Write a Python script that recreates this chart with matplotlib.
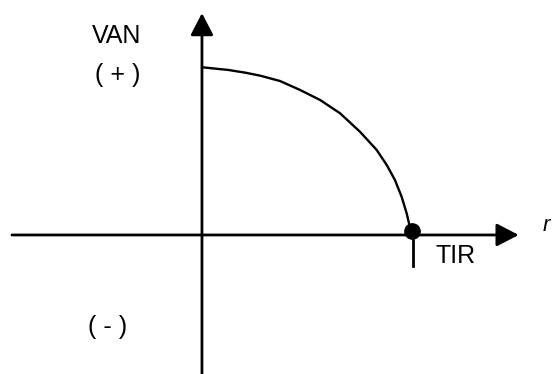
import matplotlib
matplotlib.use("Agg")
import matplotlib.pyplot as plt
from matplotlib.patches import ArrowStyle

# ==========================
# Données
# ==========================

tasa = [0.0, 0.46, 1.25, 2.05, 2.77, 3.72, 4.67, 5.63, 6.58, 7.53,
        8.33, 8.81, 9.20, 9.52, 9.76, 9.89, 10.0]
van = [100.0, 99.4, 98.4, 96.8, 95.0, 91.8, 86.5, 80.5, 72.6, 61.6,
       50.7, 41.7, 32.8, 22.8, 12.9, 6.0, 0.0]

tir = 10.0
van_tir = 2.6

# ==========================
# Figure
# ==========================

plt.rcParams["font.family"] = ["Liberation Sans", "DejaVu Sans"]

fig = plt.figure(figsize=(5.52, 3.74), dpi=100)
ax = fig.add_axes([0, 0, 1, 1])
ax.set_xlim(-9.63, 16.69)
ax.set_ylim(-82.9, 140.1)
ax.axis("off")

head = ArrowStyle("-|>", head_length=13.5, head_width=7.0)

# axe horizontal
ax.annotate(
    "", xy=(15.1, 0), xytext=(-9.06, 0),
    arrowprops=dict(arrowstyle=head, color="black", lw=2,
                    shrinkA=0, shrinkB=0, mutation_scale=1)
)

# axe vertical
ax.annotate(
    "", xy=(0, 132.3), xytext=(0, -83),
    arrowprops=dict(arrowstyle=head, color="black", lw=2,
                    shrinkA=0, shrinkB=0, mutation_scale=1)
)

# courbe VAN
ax.plot(tasa, van, color="black", lw=1.7,
        solid_capstyle="round", solid_joinstyle="round")

# point TIR
ax.plot([tir], [van_tir], "o", color="black", markersize=11)
ax.plot([tir + 0.07, tir + 0.07], [0, -18.5], color="black", lw=2)

# ==========================
# Textes
# ==========================

ax.text(-4.07, 118.5, "VAN", fontsize=18, ha="center", va="center")
ax.text(-4.0, 95.5, "( + )", fontsize=18, ha="center", va="center")
ax.text(-4.5, -55, "( - )", fontsize=18, ha="center", va="center")
ax.text(12.1, -12.5, "TIR", fontsize=18, ha="center", va="center")
ax.text(16.25, 5.5, "r", fontsize=16, style="italic",
        ha="left", va="center")

plt.savefig("out.png", dpi=100)
